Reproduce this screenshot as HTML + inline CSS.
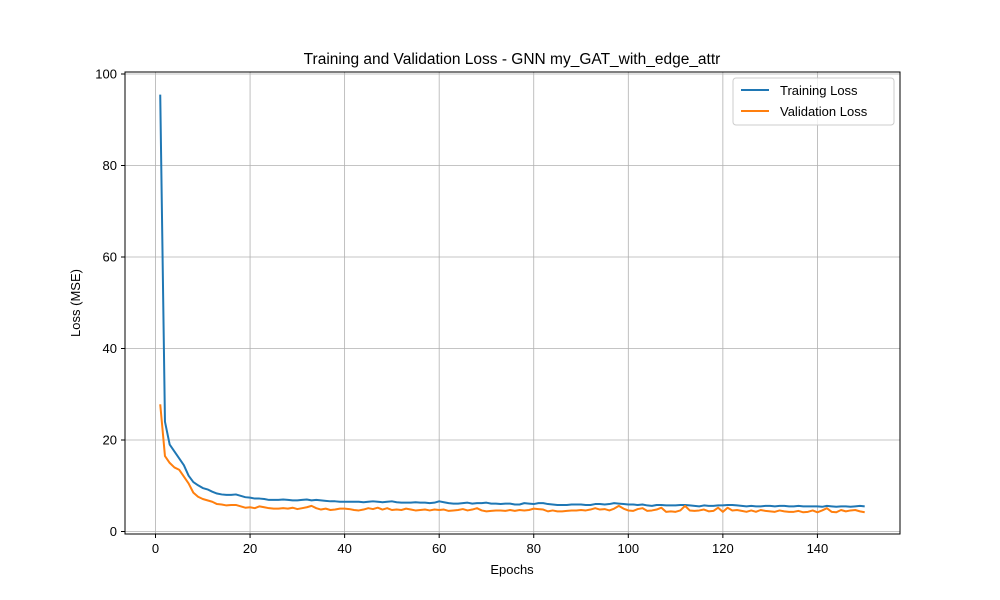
<!DOCTYPE html>
<html><head><meta charset="utf-8">
<style>
body{margin:0;background:#fff;}
svg{display:block;font-family:"Liberation Sans","DejaVu Sans",sans-serif;}
</style></head>
<body>
<svg id="chart" width="1000" height="600" xmlns="http://www.w3.org/2000/svg">
<rect width="1000" height="600" fill="#fff"/>
<text x="512" y="64" font-size="15.5" text-anchor="middle">Training and Validation Loss - GNN my_GAT_with_edge_attr</text>
<text x="512" y="574" font-size="13" text-anchor="middle">Epochs</text>
<text x="80" y="303" font-size="13" text-anchor="middle" transform="rotate(-90 80 303)">Loss (MSE)</text>
<g id="grid"></g>
<g id="series"></g>
<rect x="125" y="72" width="775" height="462" fill="none" stroke="#000" stroke-width="1"/>
<g id="ticks"></g>
<g>
<rect x="733" y="78" width="161" height="47" fill="#fff" fill-opacity="0.8" stroke="#ccc" rx="3"/>
<line x1="741" y1="90" x2="769" y2="90" stroke="#1f77b4" stroke-width="2"/>
<text x="780" y="95" font-size="13">Training Loss</text>
<line x1="741" y1="111" x2="769" y2="111" stroke="#ff7f0e" stroke-width="2"/>
<text x="780" y="116" font-size="13">Validation Loss</text>
</g>
</svg>
<script>
const xTicks=[0,20,40,60,80,100,120,140];
const yTicks=[0,20,40,60,80,100];
const trainLoss=[95.5,24,19,17.5,16,14.5,12.2,10.8,10.1,9.5,
9.2,8.7,8.3,8.1,8.0,8.0,8.1,7.8,7.5,7.4,
7.2,7.2,7.1,6.9,6.9,6.9,7.0,6.9,6.8,6.8,
6.9,7.0,6.8,6.9,6.8,6.7,6.6,6.6,6.5,6.5,
6.5,6.5,6.5,6.4,6.5,6.6,6.5,6.4,6.5,6.6,
6.4,6.3,6.3,6.3,6.4,6.3,6.3,6.2,6.3,6.6,
6.4,6.2,6.1,6.1,6.2,6.3,6.1,6.2,6.2,6.3,
6.1,6.1,6.0,6.1,6.1,5.9,5.9,6.2,6.1,6.0,
6.2,6.2,6.0,5.9,5.8,5.8,5.8,5.9,5.9,5.9,
5.8,5.8,6.0,6.0,5.9,6.0,6.2,6.1,6.0,5.9,
5.9,5.8,5.9,5.7,5.6,5.8,5.8,5.7,5.7,5.7,
5.8,5.8,5.7,5.6,5.5,5.7,5.6,5.6,5.7,5.7,
5.8,5.8,5.7,5.6,5.5,5.6,5.5,5.5,5.6,5.6,
5.5,5.6,5.6,5.5,5.5,5.6,5.5,5.5,5.5,5.5,
5.4,5.6,5.5,5.4,5.5,5.5,5.4,5.5,5.6,5.5];
const valLoss=[27.8,16.5,15,14,13.5,12,10.5,8.5,7.6,7.1,
6.8,6.5,6.0,5.9,5.7,5.8,5.8,5.5,5.2,5.3,
5.1,5.5,5.3,5.1,5.0,5.0,5.1,5.0,5.2,4.9,
5.1,5.3,5.6,5.1,4.8,5.0,4.7,4.8,5.0,5.0,
4.9,4.7,4.6,4.8,5.1,4.9,5.2,4.8,5.1,4.7,
4.8,4.7,5.0,4.8,4.6,4.7,4.8,4.6,4.8,4.7,
4.8,4.5,4.6,4.7,4.9,4.6,4.8,5.1,4.6,4.4,
4.5,4.6,4.6,4.5,4.7,4.5,4.7,4.6,4.7,5.0,
4.9,4.8,4.4,4.6,4.4,4.4,4.5,4.6,4.6,4.7,
4.6,4.8,5.1,4.8,4.9,4.6,5.0,5.6,5.0,4.6,
4.5,4.9,5.1,4.5,4.6,4.8,5.2,4.3,4.4,4.3,
4.6,5.6,4.6,4.5,4.6,4.8,4.4,4.5,5.2,4.3,
5.2,4.6,4.7,4.5,4.3,4.6,4.3,4.7,4.5,4.4,
4.3,4.6,4.4,4.3,4.3,4.5,4.2,4.3,4.6,4.2,
4.6,5.1,4.3,4.2,4.7,4.4,4.6,4.7,4.4,4.2];
const NS="http://www.w3.org/2000/svg";
const xs=v=>155.5+v*4.728;
const ys=v=>531.5-v*4.575;
function mk(tag,attrs,parent){const e=document.createElementNS(NS,tag);for(const k in attrs)e.setAttribute(k,attrs[k]);parent.appendChild(e);return e;}
const grid=document.getElementById('grid'),ticks=document.getElementById('ticks'),series=document.getElementById('series');
xTicks.forEach(t=>{const x=xs(t);
 const g=mk('line',{x1:x,x2:x,y1:72,y2:534,stroke:'#b0b0b0','stroke-width':0.8},grid);
 
 
 mk('line',{x1:x,x2:x,y1:534,y2:538,stroke:'#000'},ticks);
 const l=mk('text',{x:x,y:553,'font-size':13,'text-anchor':'middle'},ticks);l.textContent=t;
 
 
});
yTicks.forEach(t=>{const y=ys(t);
 const g=mk('line',{x1:125,x2:900,y1:y,y2:y,stroke:'#b0b0b0','stroke-width':0.8},grid);
 
 
 mk('line',{x1:121,x2:125,y1:y,y2:y,stroke:'#000'},ticks);
 const l=mk('text',{x:117,y:y+4.5,'font-size':13,'text-anchor':'end'},ticks);l.textContent=t;
 
 
});
function line(data,color,name){
 const d=data.map((v,i)=>(i?'L':'M')+xs(i+1).toFixed(2)+','+ys(v).toFixed(2)).join('');
 const p=mk('path',{d:d,fill:'none',stroke:color,'stroke-width':2,'stroke-linejoin':'round'},series);
 
 
}
line(trainLoss,'#1f77b4','training-loss-line');
line(valLoss,'#ff7f0e','validation-loss-line');
</script>
</body></html>
